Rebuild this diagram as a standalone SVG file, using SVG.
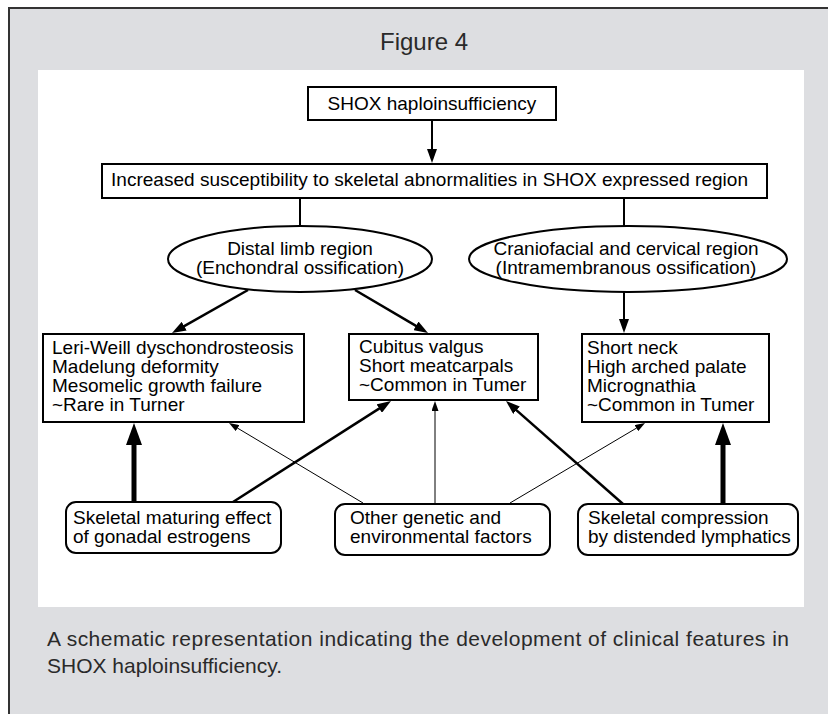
<svg xmlns="http://www.w3.org/2000/svg" width="828" height="714" viewBox="0 0 828 714">
<style>
text{font-family:"Liberation Sans",Arial,sans-serif;font-size:19px;fill:#000}
.box{fill:#fff;stroke:#000;stroke-width:2}
.c{text-anchor:middle}
.ln{stroke:#000;fill:none}
.w1{stroke-width:1}
.w2{stroke-width:2}
.w3{stroke-width:2.5}
.w5{stroke-width:5}
.cap{font-size:21px;fill:#2a2a2a}
</style>
<defs>
<marker id="mM" markerUnits="userSpaceOnUse" markerWidth="14" markerHeight="10" refX="4" refY="5" orient="auto"><path d="M0,0 L14,5 L0,10 z" fill="#000"/></marker>
<marker id="mT" markerUnits="userSpaceOnUse" markerWidth="10" markerHeight="7" refX="3" refY="3.5" orient="auto"><path d="M0,0 L10,3.5 L0,7 z" fill="#000"/></marker>
<marker id="mB" markerUnits="userSpaceOnUse" markerWidth="22" markerHeight="16" refX="6" refY="8" orient="auto"><path d="M0,0 L22,8 L0,16 z" fill="#000"/></marker>
</defs>
<rect x="9" y="8" width="840" height="730" fill="#dddee1" stroke="#333" stroke-width="2"/>
<text x="424" y="50" class="c" style="font-size:24px;fill:#2a2a2a">Figure 4</text>
<rect x="38" y="70" width="766" height="537" fill="#fff"/>
<g id="connectors">
<line class="ln w2" x1="432" y1="120" x2="432" y2="153" marker-end="url(#mM)"/>
<line class="ln w2" x1="300" y1="198" x2="300" y2="226"/>
<line class="ln w2" x1="624" y1="198" x2="624" y2="226"/>
<line class="ln w3" x1="248" y1="290" x2="180.7" y2="328.1" marker-end="url(#mM)"/>
<line class="ln w3" x1="355" y1="290" x2="419.4" y2="327.9" marker-end="url(#mM)"/>
<line class="ln w2" x1="624" y1="292" x2="624" y2="323" marker-end="url(#mM)"/>
<line class="ln w5" x1="134" y1="502" x2="134" y2="439" marker-end="url(#mB)"/>
<line class="ln w3" x1="233" y1="502" x2="382.6" y2="406.4" marker-end="url(#mM)"/>
<line class="ln w1" x1="363" y1="503" x2="235" y2="426.6" marker-end="url(#mT)"/>
<line class="ln w1" x1="435" y1="503" x2="435" y2="408" marker-end="url(#mT)"/>
<line class="ln w1" x1="510" y1="503" x2="639" y2="426.6" marker-end="url(#mT)"/>
<line class="ln w3" x1="623" y1="504" x2="513.5" y2="407.6" marker-end="url(#mM)"/>
<line class="ln w5" x1="723" y1="504" x2="723" y2="439" marker-end="url(#mB)"/>
</g>
<g id="shox">
<rect class="box" x="308" y="87" width="248" height="33"/>
<text x="432" y="110" class="c">SHOX haploinsufficiency</text>
</g>
<g id="increased">
<rect class="box" x="102" y="164" width="665" height="34"/>
<text x="111" y="186" textLength="637" lengthAdjust="spacingAndGlyphs">Increased susceptibility to skeletal abnormalities in SHOX expressed region</text>
</g>
<g id="distal">
<ellipse class="box" cx="300" cy="259" rx="132" ry="33"/>
<text x="300" y="255" class="c">Distal limb region</text>
<text x="300" y="274" class="c">(Enchondral ossification)</text>
</g>
<g id="cranio">
<ellipse class="box" cx="628" cy="259" rx="159" ry="33"/>
<text x="626" y="255" class="c">Craniofacial and cervical region</text>
<text x="626" y="274" class="c">(Intramembranous ossification)</text>
</g>
<g id="leri">
<rect class="box" x="43" y="334" width="261" height="88"/>
<text x="52" y="354">Leri-Weill dyschondrosteosis</text>
<text x="52" y="373">Madelung deformity</text>
<text x="52" y="392">Mesomelic growth failure</text>
<text x="52" y="411">~Rare in Turner</text>
</g>
<g id="cubitus">
<rect class="box" x="349" y="334" width="189" height="66"/>
<text x="359" y="353">Cubitus valgus</text>
<text x="359" y="372">Short meatcarpals</text>
<text x="359" y="391">~Common in Tumer</text>
</g>
<g id="neck">
<rect class="box" x="582" y="334" width="187" height="88"/>
<text x="587" y="354">Short neck</text>
<text x="587" y="373">High arched palate</text>
<text x="587" y="392">Micrognathia</text>
<text x="587" y="411">~Common in Tumer</text>
</g>
<g id="estrogens">
<rect class="box" x="66" y="502" width="215" height="51" rx="10"/>
<text x="73" y="524">Skeletal maturing effect</text>
<text x="73" y="543">of gonadal estrogens</text>
</g>
<g id="other">
<rect class="box" x="335" y="504" width="215" height="51" rx="10"/>
<text x="350" y="524">Other genetic and</text>
<text x="350" y="543">environmental factors</text>
</g>
<g id="compression">
<rect class="box" x="578" y="504" width="220" height="51" rx="10"/>
<text x="588" y="524">Skeletal compression</text>
<text x="588" y="543">by distended lymphatics</text>
</g>
<text x="47" y="646" class="cap" textLength="742" lengthAdjust="spacing">A schematic representation indicating the development of clinical features in</text>
<text x="47" y="673" class="cap">SHOX haploinsufficiency.</text>
</svg>
